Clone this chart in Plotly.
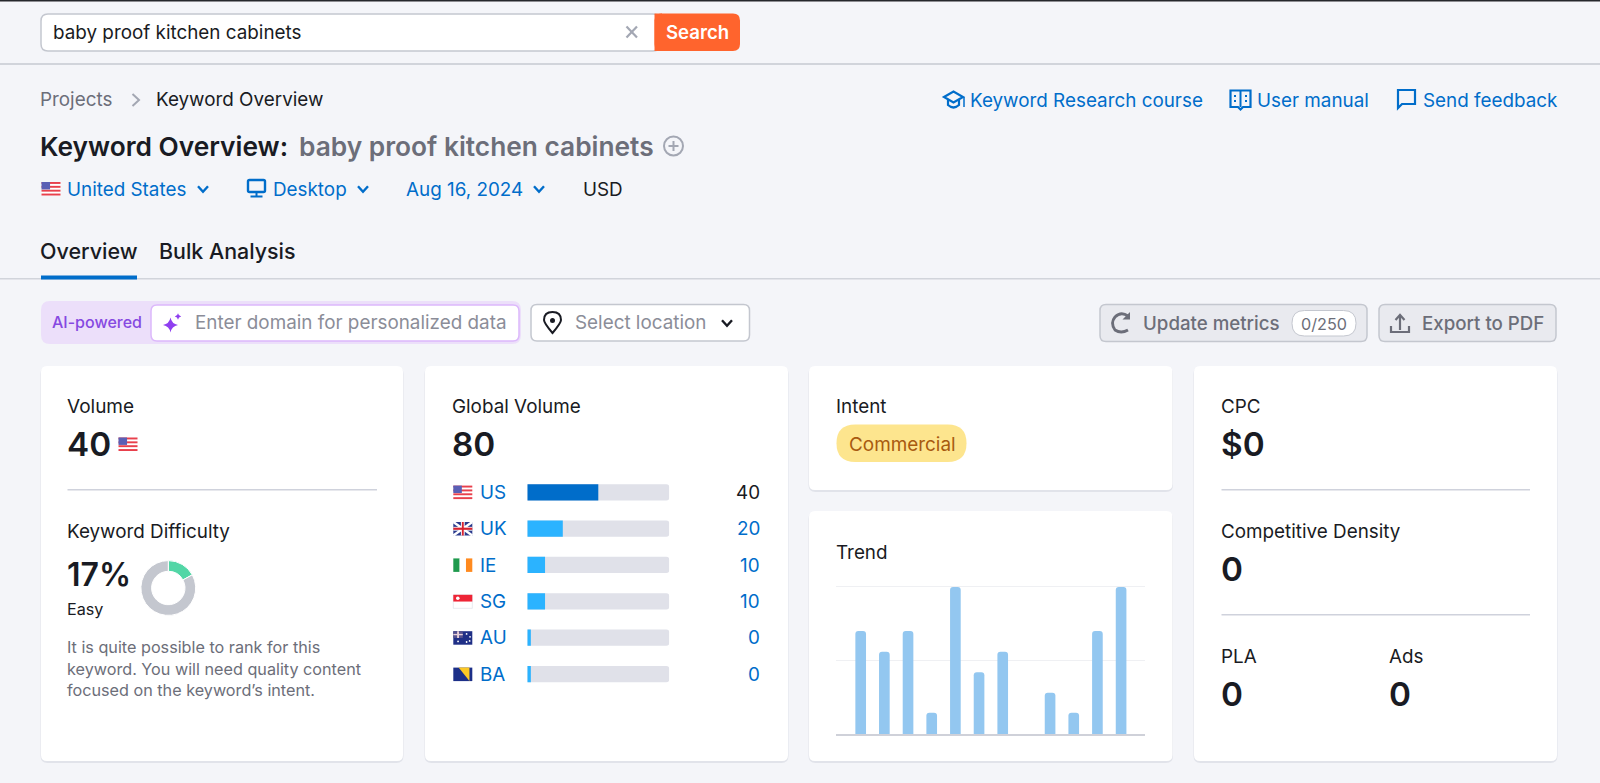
import plotly.graph_objects as go

W, H = 1600, 783
FONT = "Inter"
BACKGROUND = "#f4f5f9"
INK = "#191b23"
GREY = "#6c6e79"
MUTED = "#8b8d98"
LINK = "#006dca"
RULE = "#d1d4db"
BODY = 18.85

KEYWORD = "baby proof kitchen cabinets"

# global volume card
countries = ["US", "UK", "IE", "SG", "AU", "BA"]
country_labels = ["40", "20", "10", "10", "0", "0"]
country_bars = [40, 20, 10, 10, 2, 2]
country_colors = ["#006dca", "#2bb3ff", "#2bb3ff", "#2bb3ff", "#2bb3ff", "#2bb3ff"]
country_track = [80, 80, 80, 80, 80, 80]

# trend card, percent of the peak month
trend_months = list(range(12))
trend_values = [70, 56, 70, 14.5, 100, 42, 56, 0, 28, 14.5, 70, 100]

# keyword difficulty donut
difficulty = [17, 83]

description = [
    "It is quite possible to rank for this",
    "keyword. You will need quality content",
    "focused on the keyword\u2019s intent.",
]


def px(x):
    return x / W


def py(y):
    return 1 - y / H


def pt(x, y):
    return f"{px(x):.6f},{py(y):.6f}"


shapes = []
annotations = []


def path(d, fill="rgba(0,0,0,0)", color="rgba(0,0,0,0)", width=0):
    shapes.append(dict(type="path", path=d, xref="paper", yref="paper", layer="below",
                       fillcolor=fill, line=dict(color=color, width=width)))


def poly(points, close=False, **kwargs):
    d = "M" + " L".join(pt(x, y) for x, y in points)
    path(d + (" Z" if close else ""), **kwargs)


def rect(x0, y0, x1, y1, fill, color="rgba(0,0,0,0)", width=0):
    shapes.append(dict(type="rect", x0=px(x0), x1=px(x1), y0=py(y0), y1=py(y1),
                       xref="paper", yref="paper", layer="below", fillcolor=fill,
                       line=dict(color=color, width=width)))


def circle(cx, cy, r, fill="rgba(0,0,0,0)", color="rgba(0,0,0,0)", width=0):
    shapes.append(dict(type="circle", x0=px(cx - r), x1=px(cx + r), y0=py(cy - r), y1=py(cy + r),
                       xref="paper", yref="paper", layer="below", fillcolor=fill,
                       line=dict(color=color, width=width)))


def rrect(x0, y0, x1, y1, r, fill, color="rgba(0,0,0,0)", width=0):
    d = (f"M{pt(x0 + r, y0)} L{pt(x1 - r, y0)} Q{pt(x1, y0)} {pt(x1, y0 + r)} "
         f"L{pt(x1, y1 - r)} Q{pt(x1, y1)} {pt(x1 - r, y1)} "
         f"L{pt(x0 + r, y1)} Q{pt(x0, y1)} {pt(x0, y1 - r)} "
         f"L{pt(x0, y0 + r)} Q{pt(x0, y0)} {pt(x0 + r, y0)} Z")
    path(d, fill=fill, color=color, width=width)


def text(x, y, s, size=BODY, color=INK, weight=400, anchor="left"):
    # left anchored labels land a little right of the measured glyph edge
    if anchor == "left":
        x -= 1.8
    annotations.append(dict(x=px(x), y=py(y), xref="paper", yref="paper", text=s, showarrow=False,
                            xanchor=anchor, yanchor="middle", borderpad=0,
                            font=dict(family=FONT, size=size, color=color, weight=weight)))


def chevron(cx, cy, color=LINK, s=5):
    poly([(cx - s, cy - s * 0.55), (cx, cy + s * 0.55), (cx + s, cy - s * 0.55)], color=color, width=2.4)


def card(x0, y0, x1, y1):
    rrect(x0 - 0.5, y0 + 1, x1 + 0.5, y1 + 2, 7, "#e1e3ea")
    rrect(x0, y0, x1, y1, 6, "white")


def flag_us(x, y, w=19, h=13.5):
    rect(x, y, x + w, y + h, "white")
    for i in range(0, 7, 2):
        rect(x, y + i * h / 7, x + w, y + (i + 1) * h / 7, "#e8404c")
    rect(x, y, x + w * 0.45, y + h * 0.55, "#5a5fb5")


def flag_uk(x, y, w=19, h=13.5):
    rect(x, y, x + w, y + h, "#2a3a8c")
    poly([(x, y), (x + w, y + h)], color="white", width=2.5)
    poly([(x, y + h), (x + w, y)], color="white", width=2.5)
    rect(x + w * 0.4, y, x + w * 0.6, y + h, "white")
    rect(x, y + h * 0.36, x + w, y + h * 0.64, "white")
    rect(x + w * 0.45, y, x + w * 0.55, y + h, "#d8232f")
    rect(x, y + h * 0.42, x + w, y + h * 0.58, "#d8232f")


def flag_ie(x, y, w=19, h=13.5):
    rect(x, y, x + w / 3, y + h, "#1f9a4d")
    rect(x + w / 3, y, x + 2 * w / 3, y + h, "white")
    rect(x + 2 * w / 3, y, x + w, y + h, "#ff8a1f")


def flag_sg(x, y, w=19, h=13.5):
    rect(x, y, x + w, y + h, "white", color="#d9dae2", width=0.6)
    rect(x, y, x + w, y + h / 2, "#ee2536")
    circle(x + 4.5, y + h * 0.25, 1.8, fill="white")


def flag_au(x, y, w=19, h=13.5):
    rect(x, y, x + w, y + h, "#1f2f86")
    rect(x, y, x + w / 2, y + h / 2, "#56528f")
    rect(x + w * 0.2, y, x + w * 0.3, y + h / 2, "#e8d0d8")
    rect(x, y + h * 0.2, x + w / 2, y + h * 0.3, "#e8d0d8")
    for sx, sy in [(0.7, 0.2), (0.88, 0.42), (0.7, 0.8), (0.25, 0.76), (0.86, 0.72)]:
        circle(x + w * sx, y + h * sy, 0.9, fill="white")


def flag_ba(x, y, w=19, h=13.5):
    rect(x, y, x + w, y + h, "#1c2f88")
    poly([(x + w * 0.28, y), (x + w * 0.85, y), (x + w * 0.85, y + h)], close=True, fill="#fcc824")


def sparkle(cx, cy, r, color):
    q = r * 0.16
    d = (f"M{pt(cx, cy - r)} Q{pt(cx + q, cy - q)} {pt(cx + r, cy)} "
         f"Q{pt(cx + q, cy + q)} {pt(cx, cy + r)} "
         f"Q{pt(cx - q, cy + q)} {pt(cx - r, cy)} "
         f"Q{pt(cx - q, cy - q)} {pt(cx, cy - r)} Z")
    path(d, fill=color)


# page chrome
rect(0, 0, W, 1.5, "#26272c")
rect(0, 63, W, 65, RULE)
rect(0, 278, W, 279.5, RULE)

# search bar
rrect(41, 14, 660, 51, 7, "white", color="#c4c7cf", width=1.5)
rrect(654.5, 13.5, 740, 51, 7, "#ff642d")
rect(654.5, 13.5, 662, 51, "#ff642d")
text(53.5, 32.8, KEYWORD)
poly([(626.5, 26.5), (637, 37.5)], color="#a3a7b3", width=2.2)
poly([(637, 26.5), (626.5, 37.5)], color="#a3a7b3", width=2.2)
text(697.5, 31.5, "Search", size=18.6, color="white", weight=600, anchor="center")

# breadcrumbs and links
text(41, 99.5, "Projects", color=GREY)
poly([(132.5, 94), (139, 100), (132.5, 106)], color="#a3a7b3", width=2)
text(156.5, 99.5, "Keyword Overview")

poly([(944, 97), (953.5, 91.5), (963, 97), (953.5, 102.5)], close=True, color=LINK, width=2.2)
path(f"M{pt(948, 100)} L{pt(948, 105)} Q{pt(953.5, 110)} {pt(959, 105)} L{pt(959, 100)}", color=LINK, width=2.2)
poly([(964, 97), (964, 107)], color=LINK, width=1.5)
text(971, 100, "Keyword Research course", color=LINK)

poly([(1230.5, 90.5), (1250.5, 90.5), (1250.5, 107), (1243, 107), (1240.5, 109.5), (1238, 107), (1230.5, 107)],
     close=True, color=LINK, width=2.2)
poly([(1240.5, 90.5), (1240.5, 107)], color=LINK, width=2)
for bx in (1235, 1246):
    rect(bx - 1, 95, bx + 1, 97, LINK)
    rect(bx - 1, 100, bx + 1, 102, LINK)
text(1258, 100, "User manual", color=LINK)

poly([(1398, 90), (1415, 90), (1415, 104), (1402, 104), (1398, 108)], close=True, color=LINK, width=2.2)
text(1423.5, 100, "Send feedback", color=LINK)

# heading
text(41, 146, "Keyword Overview:", size=26.3, weight=600)
text(299.5, 146, KEYWORD, size=26.3, color=GREY, weight=600)
circle(673.5, 146, 9.5, color="#a3a7b3", width=2)
rect(668.5, 145, 678.5, 147, "#a3a7b3")
rect(672.5, 141, 674.5, 151, "#a3a7b3")

# filters
flag_us(41.5, 182)
text(68, 189, "United States", color=LINK)
chevron(203, 189)
rrect(248, 180, 265, 192, 1.5, "rgba(0,0,0,0)", color=LINK, width=2.4)
rect(255.5, 192, 257.5, 196, LINK)
rect(250.5, 195.5, 262.5, 197.5, LINK)
text(274, 189, "Desktop", color=LINK)
chevron(363, 189)
text(406.5, 189, "Aug 16, 2024", color=LINK)
chevron(539, 189)
text(583.5, 189, "USD")

# tabs
text(41, 251, "Overview", size=21.5, weight=500)
text(159.5, 251, "Bulk Analysis", size=21.4, weight=500)
rect(41, 275.5, 137, 279.5, LINK)

# toolbar
rrect(41, 301, 521, 344, 9, "#ecdffa")
text(52.5, 322.5, "AI-powered", size=16, color="#8649e1", weight=500)
rrect(151, 305, 519, 341, 6, "white", color="#dcb8fb", width=1.5)
sparkle(170.5, 325, 7.5, "#8f3ff0")
sparkle(178, 316.5, 3.2, "#8f3ff0")
text(196, 322.5, "Enter domain for personalized data", color=MUTED)

rrect(531, 304.5, 749.5, 341, 6, "white", color="#c4c7cf", width=1.5)
path(f"M{pt(552.5, 333)} Q{pt(544, 323)} {pt(544, 320)} Q{pt(544, 312)} {pt(552.5, 312)} "
     f"Q{pt(561, 312)} {pt(561, 320)} Q{pt(561, 323)} {pt(552.5, 333)} Z", color=INK, width=2)
circle(552.5, 320.5, 2.5, fill=INK)
text(576, 322.5, "Select location", color=MUTED)
chevron(727, 323, color=INK)

rrect(1100, 304.5, 1367, 341.5, 6, "#e9eaef", color="#c4c7cf", width=1.5)
path(f"M{pt(1128, 316)} Q{pt(1121, 311)} {pt(1115, 317)} Q{pt(1110, 323)} {pt(1115, 330)} "
     f"Q{pt(1121, 334)} {pt(1128, 330)}", color=GREY, width=2.8)
poly([(1130, 312), (1130, 319.5), (1122.5, 319.5)], close=True, fill=GREY)
text(1144, 323, "Update metrics", color=GREY, weight=500, size=18.7)
rrect(1292, 310.5, 1356, 336, 12.5, "white", color="#c4c7cf", width=1)
text(1324, 323.5, "0/250", size=16.2, color=GREY, anchor="center")

rrect(1379, 304.5, 1556, 341.5, 6, "#e9eaef", color="#c4c7cf", width=1.5)
poly([(1400, 330), (1400, 316)], color=GREY, width=2.2)
poly([(1395.5, 320), (1400, 315), (1404.5, 320)], color=GREY, width=2.2)
poly([(1391, 326), (1391, 332), (1409, 332), (1409, 326)], color=GREY, width=2.2)
text(1422.5, 323, "Export to PDF", color=GREY, weight=500, size=18.7)

# cards
card(41, 366, 403, 761)
card(425, 366, 788, 761)
card(809, 366, 1172.5, 490)
card(809, 511, 1172.5, 761)
card(1194, 366, 1557, 761)

# volume card
text(67.5, 406, "Volume", size=19)
text(67.5, 443.5, "40", size=33.3, weight=600)
flag_us(118.5, 437.5)
rect(67.5, 489, 377, 490.5, "#cfd2dc")
text(67.5, 531, "Keyword Difficulty")
text(67.5, 574.5, "17%", size=32, weight=600)
text(67.5, 609, "Easy", size=16.2)
for i, line in enumerate(description):
    text(67.5, 647 + i * 21.7, line, size=16.2, color=GREY)

# global volume card
text(453, 406, "Global Volume")
text(453, 443.5, "80", size=33.3, weight=600)
row_y = [492.3 + i * 36.4 for i in range(len(countries))]
for draw, y in zip([flag_us, flag_uk, flag_ie, flag_sg, flag_au, flag_ba], row_y):
    draw(453.3, y - 6.7)
for code, label, y, i in zip(countries, country_labels, row_y, range(len(countries))):
    text(481, y, code, color=LINK)
    text(761, y, label, color=INK if i == 0 else LINK, anchor="right")

# intent card
text(837, 406, "Intent")
rrect(836.5, 424.5, 966.5, 462, 18.7, "#fde58e")
text(902, 444, "Commercial", size=18.9, color="#a85a10", anchor="center")

# trend card
text(837, 552, "Trend")

# cpc card
text(1221.5, 406, "CPC")
text(1221.5, 443.5, "$0", size=33.3, weight=600)
rect(1221.5, 489, 1530, 490.5, "#cfd2dc")
text(1221.5, 531.5, "Competitive Density")
text(1221.5, 568.5, "0", size=33.3, weight=600)
rect(1221.5, 614, 1530, 615.5, "#cfd2dc")
text(1221.5, 656, "PLA")
text(1389.5, 656, "Ads")
text(1221.5, 694, "0", size=33.3, weight=600)
text(1389.5, 694, "0", size=33.3, weight=600)

fig = go.Figure()

fig.add_trace(go.Bar(x=trend_months, y=trend_values, marker_color="#93c7f0", marker_line_width=0,
                     width=0.45, xaxis="x", yaxis="y", showlegend=False))
fig.add_trace(go.Bar(y=countries, x=country_track, orientation="h", marker_color="#e0e1e9", marker_line_width=0,
                     width=0.448, xaxis="x2", yaxis="y2", showlegend=False))
fig.add_trace(go.Bar(y=countries, x=country_bars, orientation="h", marker_color=country_colors, marker_line_width=0,
                     width=0.448, xaxis="x2", yaxis="y2", showlegend=False))
fig.add_trace(go.Pie(values=difficulty, hole=0.61, sort=False, direction="clockwise", rotation=0,
                     marker=dict(colors=["#52d6a6", "#c4c7cf"], line=dict(color="white", width=1)),
                     textinfo="none", showlegend=False,
                     domain=dict(x=[px(140.9), px(195.7)], y=[py(615.4), py(560.6)])))

fig.update_layout(
    width=W,
    height=H,
    margin=dict(l=0, r=0, t=0, b=0),
    paper_bgcolor=BACKGROUND,
    plot_bgcolor="rgba(0,0,0,0)",
    barmode="overlay",
    barcornerradius=3,
    showlegend=False,
    shapes=shapes,
    annotations=annotations,
    xaxis=dict(domain=[px(836), px(1145)], range=[-1.043, 12.01], showgrid=False, zeroline=False,
               showticklabels=False, showline=True, linecolor="#cfd1d9", linewidth=1.5, ticks="", fixedrange=True),
    yaxis=dict(domain=[py(734), py(585.5)], range=[0, 101], tickvals=[0, 50, 100], showticklabels=False,
               gridcolor="#eff0f3", gridwidth=1, zeroline=False, ticks="", fixedrange=True),
    xaxis2=dict(domain=[px(527.3), px(669.3)], range=[0, 80], visible=False, fixedrange=True, anchor="y2"),
    yaxis2=dict(domain=[py(692.2), py(474.1)], autorange="reversed", type="category", visible=False,
                fixedrange=True, anchor="x2"),
)

fig.write_html("out.html", config=dict(displayModeBar=False),
               post_script="document.body.style.margin='0';document.body.style.overflow='hidden';")
